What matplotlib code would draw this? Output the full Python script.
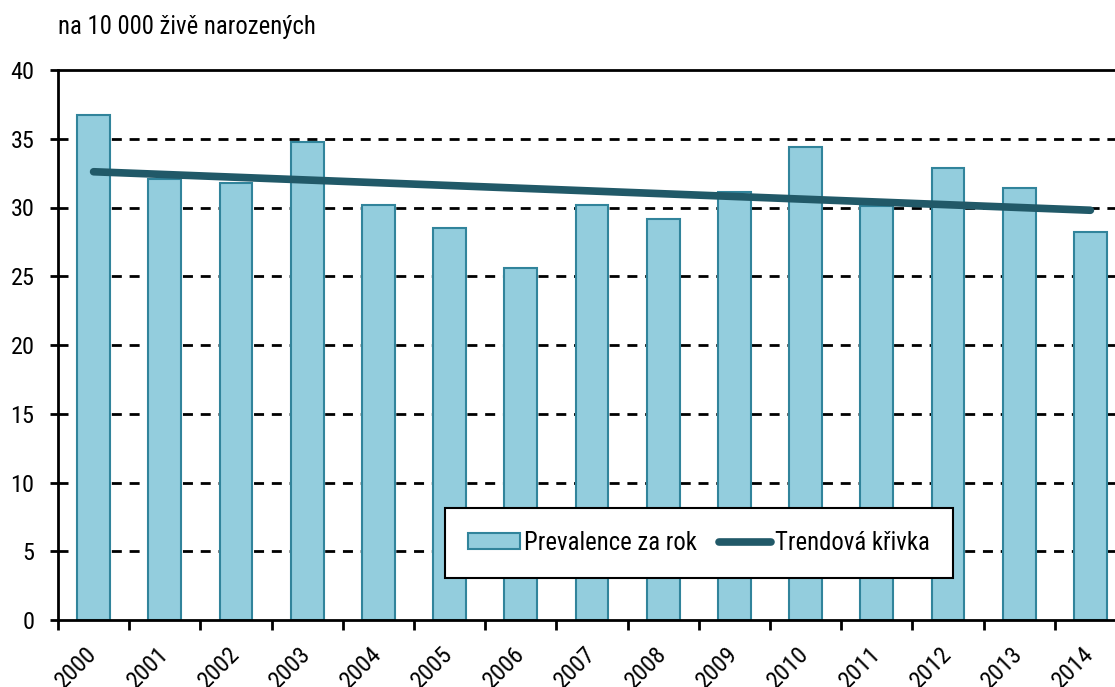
import matplotlib
matplotlib.use("Agg")
import matplotlib.pyplot as plt
from matplotlib.patches import Patch
from matplotlib.lines import Line2D
from matplotlib import font_manager
import matplotlib.transforms as mtransforms
import numpy as np

years = ["2000", "2001", "2002", "2003", "2004", "2005", "2006", "2007",
         "2008", "2009", "2010", "2011", "2012", "2013", "2014"]
prevalence = [36.7, 32.1, 31.8, 34.8, 30.2, 28.5, 25.6, 30.2,
              29.2, 31.1, 34.4, 30.1, 32.9, 31.4, 28.2]
trend_start = 32.6
trend_end = 29.8
yticks = [0, 5, 10, 15, 20, 25, 30, 35, 40]
ylabel_text = "na 10 000 živě narozených"
legend_labels = ["Prevalence za rok", "Trendová křivka"]

names = {f.name for f in font_manager.fontManager.ttflist}
fam = ['Liberation Sans', 'DejaVu Sans']
for cand in ['Liberation Sans Narrow', 'Arial Narrow', 'Roboto Condensed', 'Open Sans Condensed']:
    if cand in names:
        fam = [cand] + fam
        break
plt.rcParams['font.family'] = fam

fig = plt.figure(figsize=(11.15, 6.87), dpi=100)
ax = fig.add_axes([58/1115, 67/687, 1068/1115, 550/687])

x = np.arange(len(years))
bar_fill = "#93CDDD"
bar_edge = "#31849B"
trend_col = "#215968"

ax.bar(x, prevalence, width=0.46, color=bar_fill, edgecolor=bar_edge, linewidth=1.5, zorder=2)
trend = [trend_start, trend_end]
ax.plot([x[0], x[-1]], trend, color=trend_col, lw=5.5, solid_capstyle='round', zorder=3)

ax.set_xlim(-0.5, len(years) - 0.5)
ax.set_ylim(0, 40)
ax.set_yticks(yticks)
for v in yticks[1:-1]:
    ax.axhline(v, color="black", lw=2, dashes=(3.6, 2.8), zorder=1)

ax.set_xticks(x)
ax.set_xticklabels(years, rotation=45, ha='right', va='center',
                   rotation_mode='anchor', fontsize=17.5)
offset = mtransforms.ScaledTranslation(5/100, 0, fig.dpi_scale_trans)
for lbl in ax.get_xticklabels():
    lbl.set_transform(lbl.get_transform() + offset)
ax.set_xticks(np.arange(len(years) + 1) - 0.5, minor=True)
ax.tick_params(axis='x', which='major', length=0, pad=22)
ax.tick_params(axis='x', which='minor', length=7, width=2, direction='out')
ax.tick_params(axis='y', length=6, width=2, direction='out', labelsize=17.5, pad=11)

for s in ['left', 'bottom', 'top', 'right']:
    ax.spines[s].set_linewidth(2)
    ax.spines[s].set_color('black')

fig.text(58/1115, 1 - 27/687, ylabel_text, fontsize=17.8, va='center', ha='left')

handles = [Patch(facecolor=bar_fill, edgecolor=bar_edge, linewidth=1.5),
           Line2D([0], [0], color=trend_col, lw=5.5, solid_capstyle='round')]
leg = ax.legend(handles, legend_labels, ncol=2, loc='center',
                bbox_to_anchor=(0.362, 0.073, 0.476, 0.134), mode='expand',
                fontsize=17.8, frameon=True, fancybox=False, framealpha=1,
                handlelength=2.1, handleheight=0.6, handletextpad=0.15,
                columnspacing=1.0, borderpad=0.95, borderaxespad=0)
leg.get_frame().set_edgecolor('black')
leg.get_frame().set_linewidth(1.5)
leg.set_zorder(5)

fig.savefig("out.png", dpi=100)
